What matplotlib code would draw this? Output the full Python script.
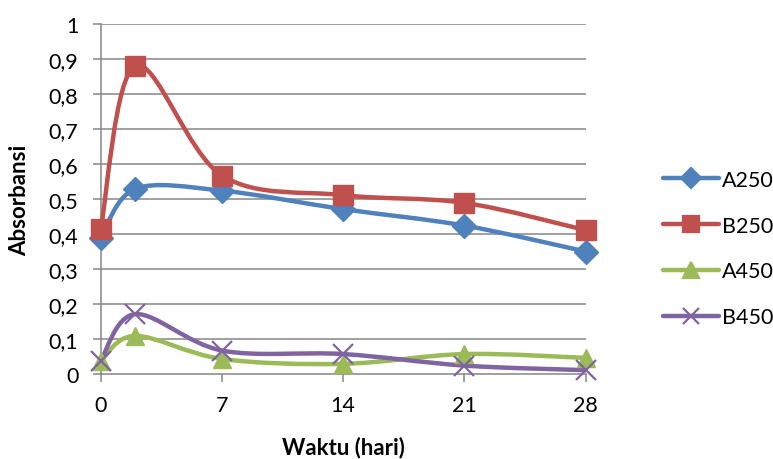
import numpy as np
import matplotlib
matplotlib.use("Agg")
import matplotlib.pyplot as plt
from matplotlib.path import Path
from matplotlib.patches import PathPatch
from matplotlib.lines import Line2D

# Data
hari = [0, 2, 7, 14, 21, 28]
a250 = [0.39, 0.529, 0.524, 0.471, 0.424, 0.35]
b250 = [0.414, 0.881, 0.567, 0.511, 0.489, 0.411]
a450 = [0.038, 0.109, 0.043, 0.029, 0.057, 0.046]
b450 = [0.038, 0.171, 0.067, 0.057, 0.024, 0.011]

nama_seri = ["A250", "B250", "A450", "B450"]
nilai_seri = [a250, b250, a450, b450]
warna = ["#4F81BD", "#C0504D", "#9BBB59", "#8064A2"]
penanda = ["D", "s", "^", "x"]
ukuran = [12, 14, 13, 14]

x_ticks = [0, 7, 14, 21, 28]
y_ticks = [0, 0.1, 0.2, 0.3, 0.4, 0.5, 0.6, 0.7, 0.8, 0.9, 1.0]

plt.rcParams["font.family"] = ["Lato", "DejaVu Sans"]
FS = 15.5


def kurva_halus(x, y):
    """Path Bezier gaya Excel (Catmull-Rom) lewat titik data."""
    p = np.column_stack([x, y]).astype(float)
    p_ext = np.vstack([p[0], p, p[-1]])
    verts = [p[0]]
    codes = [Path.MOVETO]
    for i in range(len(p) - 1):
        p0, p1, p2, p3 = p_ext[i], p_ext[i + 1], p_ext[i + 2], p_ext[i + 3]
        c1 = p1 + (p2 - p0) / 6.0
        c2 = p2 - (p3 - p1) / 6.0
        verts += [c1, c2, p2]
        codes += [Path.CURVE4] * 3
    return Path(verts, codes)


fig = plt.figure(figsize=(7.73, 4.60), dpi=100)
W, H = 773, 460
ax = fig.add_axes([100.7 / W, 1 - 375 / H, (585.7 - 100.7) / W, (375 - 25) / H])

ax.set_xlim(0, 28)
ax.set_ylim(0, 1)

for y in y_ticks[1:]:
    ax.axhline(y, color="#868686", lw=1.1, zorder=1)

for nm, vals, c, m, s in zip(nama_seri, nilai_seri, warna, penanda, ukuran):
    patch = PathPatch(kurva_halus(hari, vals), facecolor="none", edgecolor=c,
                      lw=3.2, capstyle="round", joinstyle="round", zorder=3,
                      clip_on=False)
    ax.add_patch(patch)
    if m == "x":
        ax.plot(hari, vals, ls="none", marker=m, ms=s, mew=1.6, color=c,
                zorder=4, clip_on=False)
    else:
        ax.plot(hari, vals, ls="none", marker=m, ms=s, color=c, mec=c,
                zorder=4, clip_on=False)

for side in ["top", "right"]:
    ax.spines[side].set_visible(False)
for side in ["left", "bottom"]:
    ax.spines[side].set_color("#868686")
    ax.spines[side].set_linewidth(1.1)

ax.set_xticks(x_ticks)
ax.set_yticks(y_ticks)
ax.set_yticklabels([("%g" % v).replace(".", ",") for v in y_ticks])
ax.tick_params(axis="both", colors="#868686", labelcolor="black",
               labelsize=FS, length=6, width=1.1)
ax.tick_params(axis="y", pad=10)
ax.tick_params(axis="x", pad=9)

fig.text(343 / W, 1 - 448 / H, "Waktu (hari)", fontsize=FS + 0.5,
         fontweight="bold", ha="center", va="center")
fig.text(20 / W, 1 - 200 / H, "Absorbansi", fontsize=FS + 0.5,
         fontweight="bold", ha="center", va="center", rotation=90)

handles = []
for nm, c, m, s in zip(nama_seri, warna, penanda, ukuran):
    handles.append(Line2D([0], [0], color=c, lw=3.2, marker=m, ms=s * 0.85,
                          mew=1.6, solid_capstyle="round"))
fig.legend(handles, nama_seri, loc="center left",
           bbox_to_anchor=(663 / W, 1 - 249.5 / H), frameon=False,
           fontsize=FS, handlelength=56 / 1.389 / FS, labelspacing=1.2,
           handletextpad=0.15, borderpad=0, borderaxespad=0)

fig.savefig("out.png", dpi=100)
